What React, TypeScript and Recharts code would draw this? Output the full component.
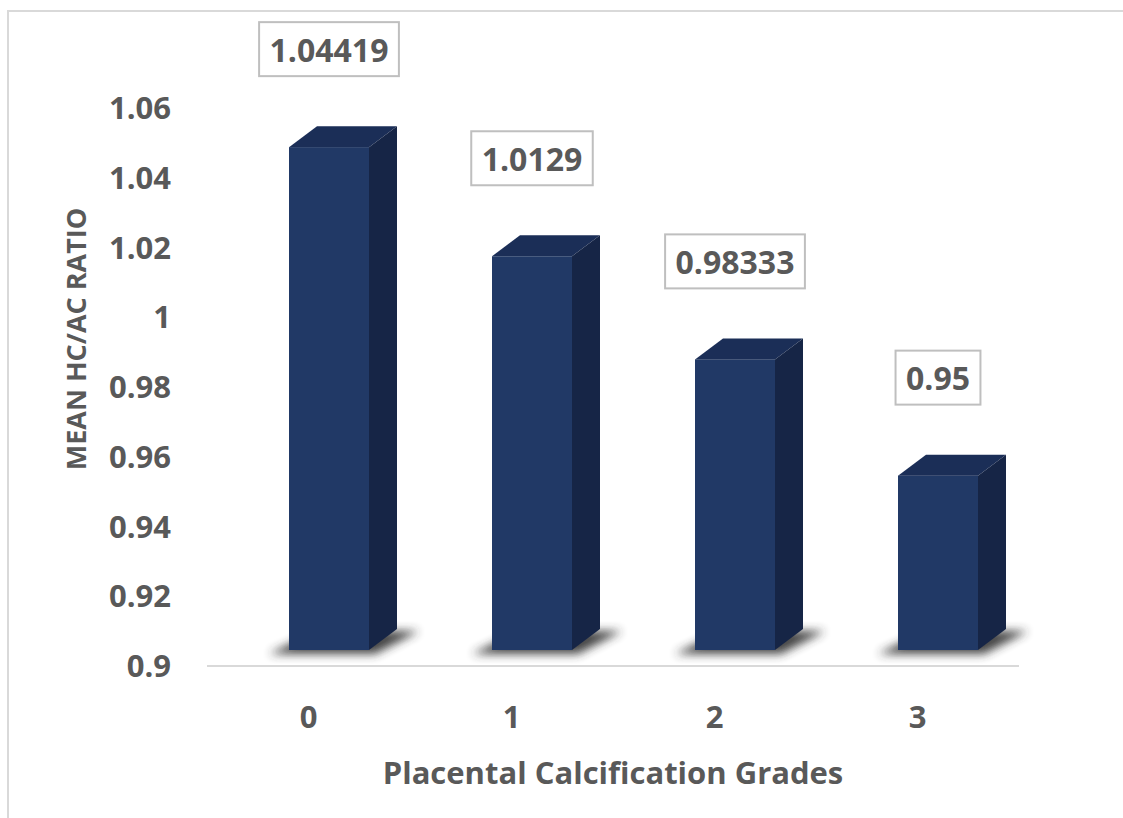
import React from 'react';
import { BarChart, Bar, XAxis, YAxis, LabelList } from 'recharts';

const grades = ['0', '1', '2', '3'];
const meanRatio = [1.04419, 1.0129, 0.98333, 0.95];
const yTicks = [0.9, 0.92, 0.94, 0.96, 0.98, 1, 1.02, 1.04, 1.06];

const data = grades.map((g, i) => ({ grade: g, value: meanRatio[i] }));

const FONT = '"Open Sans", "Liberation Sans", sans-serif';
const TEXT = '#595959';

// 3D styling (pixel offsets)
const SHIFT_X = 20;
const LIFT = 16;
const DEPTH_X = 28;
const DEPTH_Y = 21;

const Bar3D = (props: any) => {
  const { x, y, width, height, index } = props;
  if (x == null || y == null) return null;
  const fx = x + SHIFT_X;
  const fy = y - LIFT;
  const w = width;
  const h = height;
  const by = fy + h;
  const fid = `shadow-blur-${index}`;
  return (
    <g>
      <defs>
        <filter id={fid} x="-50%" y="-200%" width="200%" height="500%">
          <feGaussianBlur stdDeviation="5" />
        </filter>
      </defs>
      <polygon
        points={`${fx - 20},${by + 4} ${fx + w + 6},${by + 4} ${fx + w + DEPTH_X + 22},${by - DEPTH_Y + 2} ${fx + DEPTH_X},${by - DEPTH_Y + 2}`}
        fill="#303030"
        opacity={0.9}
        filter={`url(#${fid})`}
      />
      <rect x={fx} y={fy} width={w} height={h} fill="#213966" />
      <polygon
        points={`${fx},${fy} ${fx + w},${fy} ${fx + w + DEPTH_X},${fy - DEPTH_Y} ${fx + DEPTH_X},${fy - DEPTH_Y}`}
        fill="#1b2e57"
      />
      <polygon
        points={`${fx + w},${fy} ${fx + w + DEPTH_X},${fy - DEPTH_Y} ${fx + w + DEPTH_X},${by - DEPTH_Y} ${fx + w},${by}`}
        fill="#162546"
      />
    </g>
  );
};

const ValueBox = (props: any) => {
  const { x, y, width, value } = props;
  if (x == null || y == null) return null;
  const text = String(value);
  const cx = x + SHIFT_X + width / 2;
  const cy = y - LIFT - 98;
  const digits = text.replace('.', '').length;
  const tw = digits * 18.3 + 8;
  const bw = tw + 22;
  const bh = 54;
  return (
    <g>
      <rect x={cx - bw / 2} y={cy - bh / 2} width={bw} height={bh} fill="#ffffff" stroke="#bfbfbf" strokeWidth={2} />
      <text x={cx} y={cy} textAnchor="middle" dominantBaseline="central" fontFamily={FONT} fontWeight={700} fontSize={32} fill={TEXT}>
        {text}
      </text>
    </g>
  );
};

const YTitle = (props: any) => {
  const vb = props.viewBox || { x: 0, y: 108, width: 207, height: 558 };
  const cx = vb.x + 75;
  const cy = vb.y + vb.height / 2 - 48;
  return (
    <text
      x={cx}
      y={cy}
      transform={`rotate(-90, ${cx}, ${cy})`}
      textAnchor="middle"
      dominantBaseline="central"
      fontFamily={FONT}
      fontWeight={700}
      fontSize={27}
      fill={TEXT}
    >
      MEAN HC/AC RATIO
    </text>
  );
};

export default function App() {
  return (
    <div style={{ position: 'absolute', left: 0, top: 0, width: 1123, height: 818, overflow: 'hidden', background: '#fff' }}>
      <div style={{ position: 'absolute', left: 7, top: 10, width: 1200, height: 900, borderTop: '2px solid #d9d9d9', borderLeft: '2px solid #d9d9d9' }} />
      <div style={{ position: 'absolute', left: 0, top: 0 }}>
        <BarChart width={1123} height={818} data={data} margin={{ top: 108, right: 104, left: 0, bottom: 0 }}>
          <XAxis
            dataKey="grade"
            height={152}
            axisLine={{ stroke: '#d9d9d9', strokeWidth: 2 }}
            tickLine={false}
            tickSize={0}
            tickMargin={40}
            tick={{ fontFamily: FONT, fontWeight: 700, fontSize: 31, fill: TEXT }}
            label={{ value: 'Placental Calcification Grades', position: 'insideBottom', offset: 34, fontFamily: FONT, fontWeight: 700, fontSize: 31, fill: TEXT }}
          />
          <YAxis
            width={207}
            domain={[0.9, 1.06]}
            ticks={yTicks}
            type="number"
            axisLine={false}
            tickLine={false}
            tickSize={0}
            tickMargin={36}
            tick={{ fontFamily: FONT, fontWeight: 700, fontSize: 31, fill: TEXT }}
            label={<YTitle />}
          />
          <Bar dataKey="value" barSize={80} shape={<Bar3D />} isAnimationActive={false}>
            <LabelList dataKey="value" content={<ValueBox />} />
          </Bar>
        </BarChart>
      </div>
    </div>
  );
}
